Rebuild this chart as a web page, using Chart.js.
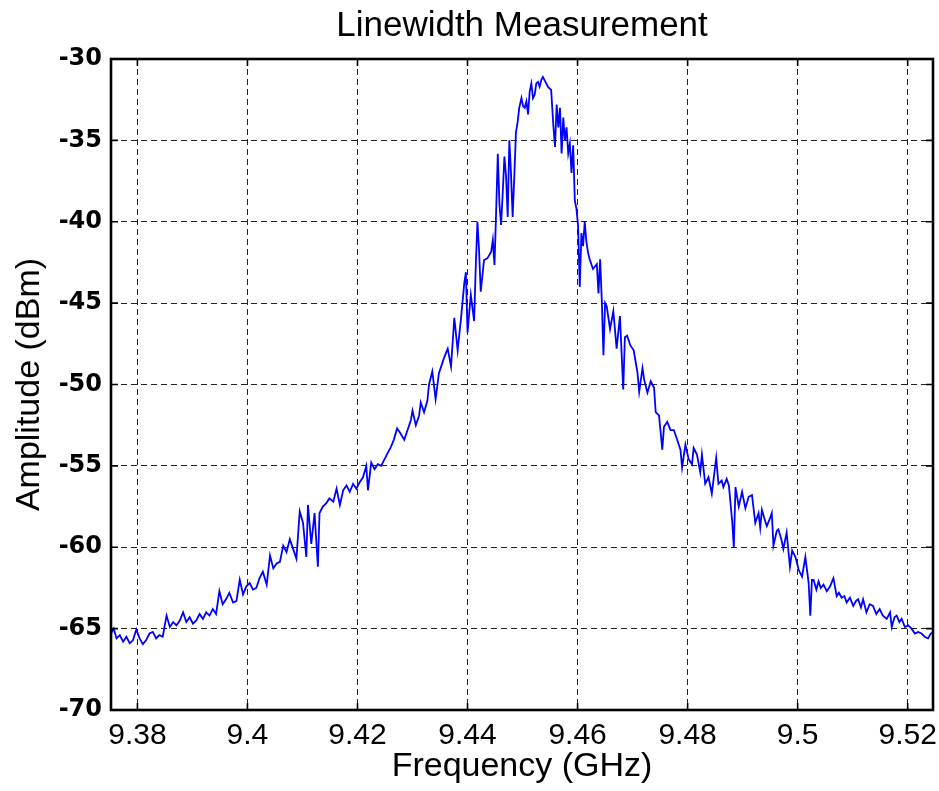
<!DOCTYPE html>
<html>
<head>
<meta charset="utf-8">
<title>Linewidth Measurement</title>
<script src="https://cdn.jsdelivr.net/npm/chart.js@4.4.0/dist/chart.umd.min.js"></script>
<style>
  html, body { margin: 0; padding: 0; background: #ffffff; }
  #wrap { width: 939px; height: 791px; }
</style>
</head>
<body>
<div id="wrap"><canvas id="lwChart" width="939" height="791"></canvas></div>
<script>
// Datos (frecuencia en GHz, amplitud en dBm)
const freqGHz = [
  9.3752, 9.3757, 9.3762, 9.3768, 9.3774, 9.3780, 9.3786, 9.3792, 9.3798, 9.3804,
  9.3810, 9.3816, 9.3822, 9.3828, 9.3834, 9.3840, 9.3846, 9.3853, 9.3859, 9.3865,
  9.3871, 9.3877, 9.3883, 9.3889, 9.3895, 9.3901, 9.3907, 9.3913, 9.3919, 9.3925,
  9.3931, 9.3937, 9.3943, 9.3949, 9.3955, 9.3961, 9.3967, 9.3974, 9.3980, 9.3986,
  9.3992, 9.3998, 9.4004, 9.4010, 9.4016, 9.4022, 9.4028, 9.4035, 9.4041, 9.4047,
  9.4053, 9.4059, 9.4065, 9.4071, 9.4077, 9.4083, 9.4089, 9.4095, 9.4101, 9.4107,
  9.4110, 9.4116, 9.4122, 9.4128, 9.4131, 9.4137, 9.4143, 9.4149, 9.4156, 9.4162,
  9.4168, 9.4174, 9.4180, 9.4186, 9.4192, 9.4198, 9.4204, 9.4210, 9.4216, 9.4219,
  9.4225, 9.4231, 9.4237, 9.4243, 9.4249, 9.4255, 9.4260, 9.4266, 9.4272, 9.4278,
  9.4285, 9.4291, 9.4297, 9.4300, 9.4306, 9.4312, 9.4315, 9.4321, 9.4327, 9.4330,
  9.4336, 9.4342, 9.4348, 9.4354, 9.4358, 9.4364, 9.4370, 9.4376, 9.4382, 9.4388,
  9.4394, 9.4397, 9.4400, 9.4406, 9.4412, 9.4415, 9.4418, 9.4421, 9.4424, 9.4430,
  9.4436, 9.4443, 9.4446, 9.4449, 9.4452, 9.4455, 9.4458, 9.4461, 9.4464, 9.4467,
  9.4470, 9.4473, 9.4476, 9.4479, 9.4482, 9.4485, 9.4488, 9.4491, 9.4494, 9.4498,
  9.4501, 9.4504, 9.4507, 9.4510, 9.4513, 9.4516, 9.4519, 9.4522, 9.4525, 9.4528,
  9.4531, 9.4534, 9.4537, 9.4540, 9.4543, 9.4546, 9.4549, 9.4552, 9.4556, 9.4559,
  9.4562, 9.4565, 9.4568, 9.4571, 9.4574, 9.4577, 9.4580, 9.4583, 9.4586, 9.4589,
  9.4592, 9.4595, 9.4598, 9.4601, 9.4604, 9.4607, 9.4610, 9.4613, 9.4616, 9.4619,
  9.4622, 9.4628, 9.4635, 9.4638, 9.4641, 9.4644, 9.4647, 9.4650, 9.4653, 9.4659,
  9.4665, 9.4671, 9.4677, 9.4683, 9.4686, 9.4690, 9.4696, 9.4702, 9.4709, 9.4712,
  9.4718, 9.4721, 9.4727, 9.4733, 9.4739, 9.4742, 9.4748, 9.4754, 9.4757, 9.4763,
  9.4769, 9.4775, 9.4781, 9.4787, 9.4790, 9.4796, 9.4802, 9.4808, 9.4811, 9.4817,
  9.4823, 9.4826, 9.4832, 9.4838, 9.4844, 9.4852, 9.4856, 9.4862, 9.4865, 9.4871,
  9.4875, 9.4881, 9.4884, 9.4887, 9.4893, 9.4899, 9.4905, 9.4911, 9.4917, 9.4923,
  9.4929, 9.4932, 9.4935, 9.4941, 9.4944, 9.4950, 9.4953, 9.4956, 9.4962, 9.4965,
  9.4971, 9.4974, 9.4980, 9.4986, 9.4990, 9.4996, 9.5002, 9.5008, 9.5014, 9.5020,
  9.5023, 9.5026, 9.5029, 9.5034, 9.5038, 9.5042, 9.5047, 9.5053, 9.5059, 9.5065,
  9.5071, 9.5075, 9.5080, 9.5085, 9.5089, 9.5095, 9.5101, 9.5106, 9.5110, 9.5115,
  9.5119, 9.5125, 9.5131, 9.5137, 9.5143, 9.5149, 9.5155, 9.5162, 9.5168, 9.5171,
  9.5176, 9.5180, 9.5185, 9.5189, 9.5195, 9.5201, 9.5207, 9.5213, 9.5219, 9.5225,
  9.5231, 9.5237, 9.5242, 9.5246
];

const amplitudeDbm = [
  -65.3, -65.0, -65.6, -65.4, -65.8, -65.5, -65.9, -65.7, -65.05, -65.6,
  -65.95, -65.7, -65.3, -65.2, -65.6, -65.4, -65.5, -64.2, -64.9, -64.6,
  -64.8, -64.5, -64.0, -64.6, -64.3, -64.7, -64.5, -64.1, -64.4, -64.0,
  -64.2, -63.8, -64.1, -62.7, -63.5, -63.2, -62.8, -63.4, -63.3, -62.0,
  -62.9, -62.4, -62.2, -62.6, -62.5, -61.9, -61.5, -62.3, -60.5, -61.3,
  -61.0, -60.9, -59.9, -60.3, -59.5, -60.1, -60.7, -57.8, -58.5, -60.6,
  -57.4, -59.8, -57.9, -61.2, -57.9, -57.5, -57.3, -57.0, -57.2, -56.4,
  -57.4, -56.5, -56.2, -56.6, -56.1, -56.4, -56.0, -55.7, -55.0, -56.5,
  -54.8, -55.2, -54.9, -55.0, -54.6, -54.2, -53.9, -53.4, -52.7, -53.0,
  -53.4, -52.8, -52.2, -51.6, -52.5, -51.9, -51.1, -51.7, -51.0, -50.0,
  -49.2, -50.9, -49.3, -48.7, -48.3, -47.8, -48.9, -45.9, -47.9, -46.0,
  -43.8, -43.1, -46.8, -44.5, -46.1, -42.7, -40.0, -41.8, -44.3, -42.35,
  -42.25, -41.84, -41.12, -42.65, -39.39, -35.82, -38.9, -40.2, -38.2, -36.0,
  -37.2, -39.7, -35.0, -37.0, -39.7, -37.2, -34.5, -33.9, -33.0, -32.4,
  -32.9, -33.0, -32.6, -33.4, -32.0, -31.5, -32.4, -32.2, -31.5, -31.4,
  -31.7, -31.3, -31.1, -31.3, -31.5, -31.7, -31.8, -31.9, -34.1, -35.4,
  -32.8, -34.2, -33.0, -35.8, -33.6, -35.0, -34.2, -35.8, -35.2, -37.0,
  -35.3, -38.7, -39.2, -40.3, -44.0, -40.7, -41.5, -40.0, -41.2, -41.9,
  -42.3, -42.9, -42.6, -44.4, -42.3, -44.8, -48.2, -45.0, -45.2, -46.6,
  -45.5, -47.8, -45.8, -50.3, -47.1, -47.0, -47.6, -47.9, -49.3, -50.45,
  -49.0, -49.7, -50.5, -49.8, -50.2, -51.7, -51.9, -54.0, -52.6, -52.3,
  -52.8, -52.8, -53.4, -54.0, -55.1, -53.7, -54.6, -54.9, -53.9, -54.3,
  -55.4, -54.3, -56.1, -55.7, -56.7, -54.5, -56.1, -55.9, -56.3, -55.8,
  -56.2, -58.4, -60.0, -56.3, -57.5, -56.6, -57.6, -56.9, -56.8, -58.5,
  -57.9, -58.8, -57.7, -58.4, -58.7, -58.2, -57.9, -59.9, -59.0, -58.9,
  -59.6, -60.1, -59.1, -61.2, -60.2, -60.6, -61.4, -61.8, -60.6, -62.2,
  -64.2, -62.0, -62.0, -62.6, -62.1, -62.5, -62.3, -62.7, -62.4, -61.9,
  -63.0, -62.8, -63.1, -63.0, -63.4, -63.1, -63.6, -63.3, -63.2, -63.7,
  -63.2, -64.0, -63.5, -63.6, -64.1, -63.8, -64.2, -64.4, -64.0, -64.9,
  -64.3, -64.2, -64.6, -64.4, -64.9, -64.8, -65.0, -65.3, -65.2, -65.3,
  -65.5, -65.6, -65.3, -65.2
];

// Limites de los ejes y etiquetas
const xRange = [9.3752, 9.5246];
const yRange = [-70, -30];
const xTickLabels = ['9.38', '9.4', '9.42', '9.44', '9.46', '9.48', '9.5', '9.52'];

const FONT = "'Liberation Sans', Arial, sans-serif";

// Caja del eje y marcas interiores (estilo MATLAB)
const axesBoxPlugin = {
    id: 'axesBox',
    afterDatasetsDraw(chart) {
        const { ctx, chartArea: a, scales } = chart;
        ctx.save();
        ctx.strokeStyle = '#000';
        ctx.lineWidth = 1.6;
        scales.x.ticks.forEach(t => {
            const px = scales.x.getPixelForValue(t.value);
            ctx.beginPath();
            ctx.moveTo(px, a.bottom); ctx.lineTo(px, a.bottom - 7);
            ctx.moveTo(px, a.top); ctx.lineTo(px, a.top + 7);
            ctx.stroke();
        });
        scales.y.ticks.forEach(t => {
            const py = scales.y.getPixelForValue(t.value);
            ctx.beginPath();
            ctx.moveTo(a.left, py); ctx.lineTo(a.left + 7, py);
            ctx.moveTo(a.right, py); ctx.lineTo(a.right - 7, py);
            ctx.stroke();
        });
        ctx.lineWidth = 2.6;
        ctx.strokeRect(a.left, a.top, a.right - a.left, a.bottom - a.top);
        ctx.restore();
    }
};

const ctx = document.getElementById('lwChart').getContext('2d');
const lwChart = new Chart(ctx, {
    type: 'line',
    data: {
        datasets: [{
            data: freqGHz.map((f, i) => ({ x: f, y: amplitudeDbm[i] })),
            borderColor: '#0000ff',
            borderWidth: 1.8,
            pointRadius: 0,
            tension: 0,
            fill: false
        }]
    },
    options: {
        responsive: false,
        animation: false,
        layout: { padding: { left: 0, right: 6, top: 0, bottom: 0 } },
        plugins: {
            legend: { display: false },
            tooltip: { enabled: false },
            title: {
                display: true,
                text: 'Linewidth Measurement',
                color: '#000',
                fullSize: false,
                font: { family: FONT, size: 35, weight: 'normal' },
                padding: { top: 5, bottom: 12 }
            }
        },
        scales: {
            x: {
                type: 'linear',
                min: xRange[0],
                max: xRange[1],
                afterFit: s => {
                    s.height = 81;
                    s.paddingLeft = 0;
                    s.paddingRight = 0;
                },
                ticks: {
                    stepSize: 0.02,
                    includeBounds: false,
                    autoSkip: false,
                    maxRotation: 0,
                    color: '#000',
                    padding: 8,
                    font: { family: FONT, size: 30 },
                    callback: (value, index) => xTickLabels[index]
                },
                grid: { color: '#222', lineWidth: 1, drawTicks: false },
                border: { display: false, dash: [6, 4] },
                title: {
                    display: true,
                    text: 'Frequency (GHz)',
                    color: '#000',
                    font: { family: FONT, size: 34 },
                    padding: { top: 0, bottom: 4 }
                }
            },
            y: {
                min: yRange[0],
                max: yRange[1],
                afterFit: s => { s.width = 111; },
                ticks: {
                    stepSize: 5,
                    color: '#000',
                    padding: 9,
                    font: { family: "'DejaVu Sans', sans-serif", size: 24, weight: 'bold' }
                },
                grid: { color: '#222', lineWidth: 1, drawTicks: false },
                border: { display: false, dash: [6, 4] },
                title: {
                    display: true,
                    text: 'Amplitude (dBm)',
                    color: '#000',
                    font: { family: FONT, size: 34 },
                    padding: { top: 9, bottom: 0 }
                }
            }
        }
    },
    plugins: [axesBoxPlugin]
});
</script>
</body>
</html>
